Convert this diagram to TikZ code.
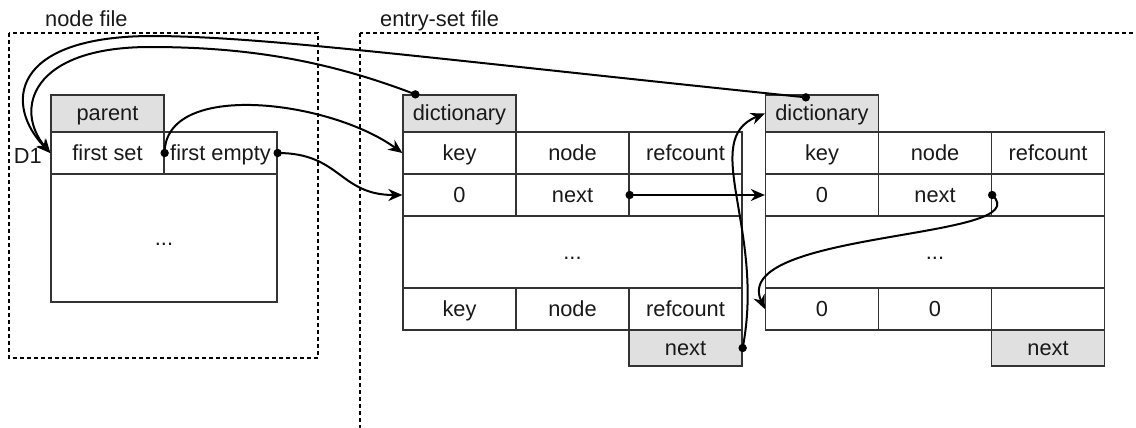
\documentclass[tikz,border=0pt]{standalone}
\usepackage{fontspec}
\setmainfont{Liberation Sans}
\usetikzlibrary{arrows.meta}
\definecolor{cellgray}{RGB}{224,224,224}
\definecolor{celledge}{RGB}{51,51,51}
\newcommand\diagfont{\fontsize{21.8}{25}\selectfont}
\begin{document}
\begin{tikzpicture}[x=1pt,y=-1pt,
  cell/.style={draw=celledge, line width=1.3pt, fill=white, inner sep=0pt,
    minimum width=113pt, minimum height=42pt, font=\diagfont, text=black!90,
    text height=18pt, text depth=4pt},
  shaded/.style={cell, fill=cellgray},
  frame/.style={draw=black, line width=1.2pt, dash pattern=on 4pt off 3pt},
  title/.style={anchor=base west, inner sep=0pt, font=\diagfont, text=black!90},
  link/.style={draw=black, line width=2pt,
    -{Stealth[length=14pt, width=12pt, inset=4.5pt]}},
  pin/.style={fill=black}]
\clip (0,0) rectangle (1136,428);

% file regions
\draw[frame] (9,33) rectangle (318,358);
\draw[frame] (360,33) rectangle (1160,428.2);
\node[title] (nfile) at (45,27) {node file};
\node[title] (efile) at (380,27) {entry-set file};

% node file contents
\node[shaded, minimum height=37pt] (parent) at (107.5,113.5) {parent};
\node[cell] (fset) at (107.5,153) {first set};
\node[cell] (fempty) at (220.5,153) {first empty};
\node[cell, minimum width=226pt, minimum height=128pt] (nrest) at (164,238) {...};
\node[anchor=base east, inner sep=0pt, font=\diagfont, text=black!90] (dname) at (42,163) {D1};

% first entry set
\node[shaded, minimum height=37pt] (adict) at (459.5,113.5) {dictionary};
\node[cell] (ak) at (459.5,153) {key};
\node[cell] (an) at (572.5,153) {node};
\node[cell] (ar) at (685.5,153) {refcount};
\node[cell] (a0k) at (459.5,195) {0};
\node[cell] (a0n) at (572.5,195) {next};
\node[cell] (a0r) at (685.5,195) {};
\node[cell, minimum width=339pt, minimum height=72pt] (arest) at (572.5,252) {...};
\node[cell] (azk) at (459.5,309) {key};
\node[cell] (azn) at (572.5,309) {node};
\node[cell] (azr) at (685.5,309) {refcount};
\node[shaded, minimum height=36pt] (anext) at (685.5,348) {next};

% second entry set
\node[shaded, minimum height=37pt] (bdict) at (822,113.5) {dictionary};
\node[cell] (bk) at (822,153) {key};
\node[cell] (bn) at (935,153) {node};
\node[cell] (br) at (1048,153) {refcount};
\node[cell] (b0k) at (822,195) {0};
\node[cell] (b0n) at (935,195) {next};
\node[cell] (b0r) at (1048,195) {};
\node[cell, minimum width=339pt, minimum height=72pt] (brest) at (935,252) {...};
\node[cell] (bzk) at (822,309) {0};
\node[cell] (bzn) at (935,309) {0};
\node[cell] (bzr) at (1048,309) {};
\node[shaded, minimum height=36pt] (bnext) at (1048,348) {next};

% pointer origins
\coordinate (adot) at ([xshift=13pt]adict.north west);
\coordinate (bdot) at ([xshift=41pt,yshift=-3pt]bdict.north west);
\coordinate (wout) at (150,36);
\coordinate (win) at (150,47);

% dictionaries point back to the node D1
\draw[line width=2pt] (bdot) .. controls +(-386,-40) and +(110,0) .. (wout);
\draw[link] (wout) .. controls +(-140,1) and +(-46,-48) .. (fset.west);
\draw[line width=2pt] (adot) .. controls +(-86,-33) and +(100,0) .. (win);
\draw[link] (win) .. controls +(-120,0) and +(-36,-43) .. (fset.west);

% node pointers into the first entry set
\draw[link] (fset.east) .. controls +(0,-73) and +(-73,-53) .. (ak.west);
\draw[link] (fempty.east) .. controls +(63,0) and +(-63,0) .. (a0k.west);

% chain of entries
\draw[link] (a0n.east) -- (b0k.west);
\draw[link] (b0n.east) .. controls +(49,45) and +(-36,-79) .. (bzk.west);
\draw[link] (anext.east) .. controls +(23,-118) and +(-66,26.5) .. (bdict.west);

% start dots
\foreach \p in {adot,bdot,fset.east,fempty.east,a0n.east,b0n.east,anext.east}
  \fill[pin] (\p) circle[radius=4.2];
\end{tikzpicture}
\end{document}
